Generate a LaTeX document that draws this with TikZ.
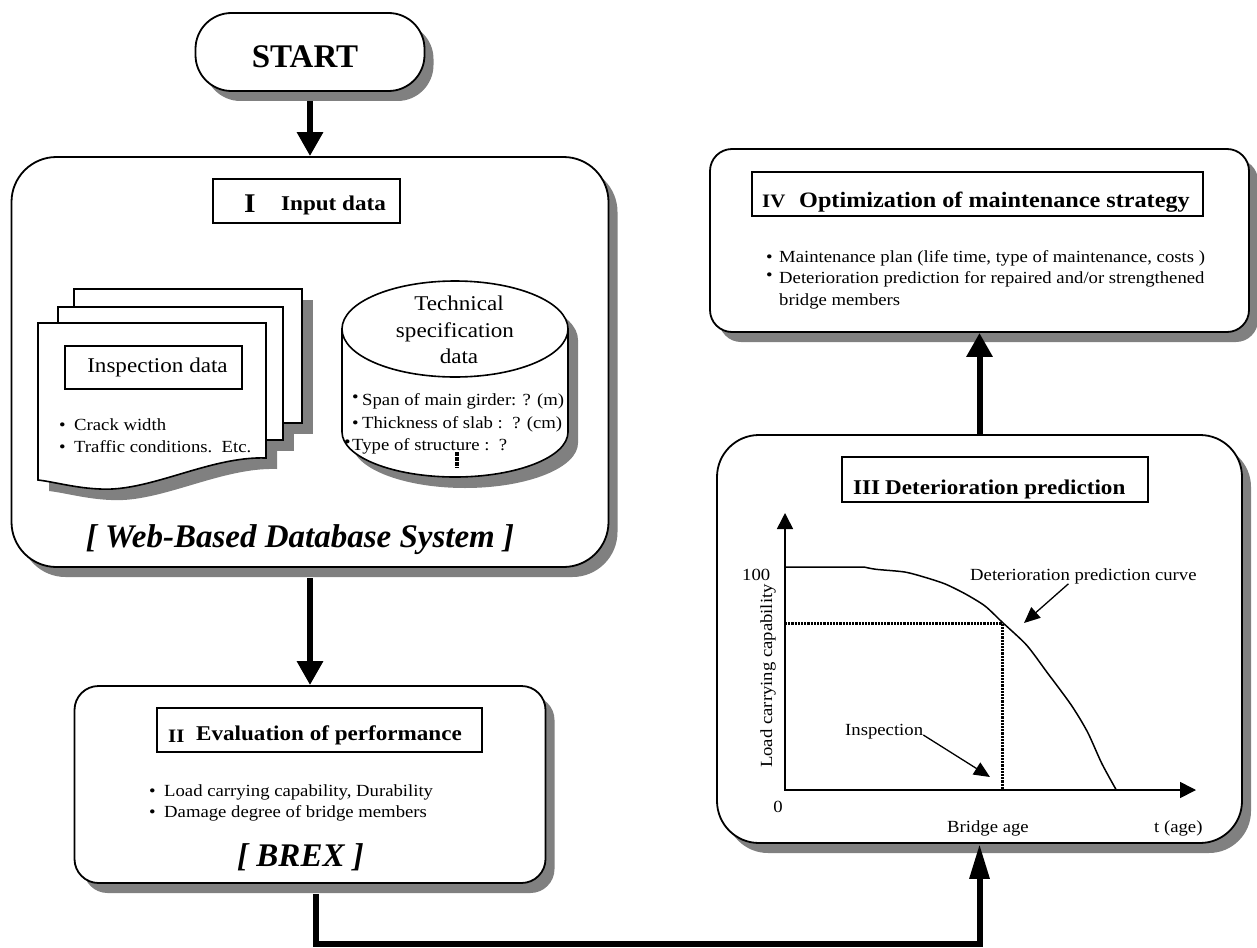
\documentclass[tikz,border=0pt]{standalone}
\usepackage{fontspec}
\setmainfont{Liberation Serif}
\newfontfamily\wf{Liberation Serif}[FakeStretch=1.1]
\usetikzlibrary{arrows.meta,shadows}
\begin{document}
\begin{tikzpicture}[x=1pt,y=-1pt,
  box/.style={draw,line width=1.8pt,fill=white,inner sep=0pt},
  shad/.style={drop shadow={shadow xshift=9pt,shadow yshift=-10pt,fill=gray,opacity=1}},
  page/.style={draw,line width=1.6pt,fill=white},
  tbox/.style={draw,line width=1.4pt,fill=white,inner sep=0pt},
  ttl/.style={font=\wf\bfseries\fontsize{21}{25}\selectfont,inner sep=0pt,anchor=base west},
  num/.style={font=\wf\bfseries\fontsize{19}{22}\selectfont,inner sep=0pt,anchor=base west},
  txt/.style={font=\wf\fontsize{17}{21}\selectfont,inner sep=0pt,anchor=base west},
  mid/.style={font=\wf\fontsize{21}{25}\selectfont,inner sep=0pt,anchor=base},
  big/.style={font=\bfseries\itshape\fontsize{33}{36}\selectfont,inner sep=0pt,anchor=base},
  flow/.style={line width=6pt,-{Triangle[length=24pt,width=25pt]}},
  axis/.style={line width=1.6pt,{Triangle[length=16pt,width=16pt]}-{Triangle[length=16pt,width=16pt]}},
  ptr/.style={line width=1.3pt,-{Triangle[length=16pt,width=14pt]}},
  dots/.style={line width=3pt,dash pattern=on 2.2pt off 1pt},
  crv/.style={line width=1.5pt}]
\useasboundingbox (0,0) rectangle (1257,947);

% ---------- START ----------
\node[box,shad,rounded corners=36pt,minimum width=229pt,minimum height=78pt] (start) at (310,52) {};
\node[font=\bfseries\fontsize{33}{36}\selectfont,inner sep=0pt,anchor=base] (starttxt) at (305,68) {START};

% ---------- I Input data ----------
\node[box,shad,rounded corners=45pt,minimum width=597pt,minimum height=410pt] (input) at (310,362) {};
\node[tbox,minimum width=187pt,minimum height=44pt] (t1) at (306.5,201) {};
\node[ttl,font=\wf\bfseries\fontsize{27}{30}\selectfont] (t1n) at (244,212) {I};
\node[ttl] (t1t) at (281,210) {Input data};

% document stack
\begin{scope}[shift={(11,11)}]
\fill[gray] (74,289) rectangle (302,423);
\fill[gray] (58,307) rectangle (283,440);
\fill[gray] (38,323) -- (266,323) -- (266,458) .. controls (210,456) and (150,492) .. (100,489) .. controls (75,488) and (55,482) .. (38,480) -- cycle;
\end{scope}
\draw[page] (74,289) rectangle (302,423);
\draw[page] (58,307) rectangle (283,440);
\draw[page] (38,323) -- (266,323) -- (266,458) .. controls (210,456) and (150,492) .. (100,489) .. controls (75,488) and (55,482) .. (38,480) -- cycle;
\node[tbox,minimum width=177pt,minimum height=43pt,font=\wf\fontsize{21}{25}\selectfont] (insp) at (153.5,367.5) {\hspace*{8pt}Inspection data};
\node[txt] (ib1) at (59,430) {\makebox[15pt][l]{•}Crack width};
\node[txt] (ib2) at (59,452) {\makebox[15pt][l]{•}Traffic conditions.\ \ Etc.};

% cylinder
\begin{scope}[shift={(10,11)}]
\fill[gray] (342,329) -- (342,432) .. controls (342,457) and (393,477) .. (455,477) .. controls (517,477) and (568,457) .. (568,432) -- (568,329) -- cycle;
\fill[gray] (455,329) ellipse [x radius=113,y radius=48];
\end{scope}
\draw[page] (342,329) -- (342,432) .. controls (342,457) and (393,477) .. (455,477) .. controls (517,477) and (568,457) .. (568,432) -- (568,329) -- cycle;
\draw[page] (455,329) ellipse [x radius=113,y radius=48];
\node[mid] (cy1) at (459,310) {Technical};
\node[mid] (cy2) at (455,337) {specification};
\node[mid] (cy3) at (459,363) {data};
\node[txt] (cb1) at (352,405) {\makebox[10pt][l]{\raisebox{3pt}{•}}Span of main girder: ? (m)};
\node[txt] (cb2) at (352,428) {\makebox[10pt][l]{•}Thickness of slab :\ \ ? (cm)};
\node[txt] (cb3) at (344,450) {\makebox[8pt][l]{\raisebox{3pt}{•}}Type of structure :\ \ ?};
\draw[line width=4pt,dash pattern=on 3.5pt off 1.5pt] (457,452) -- (457,468);

\node[big] (wbds) at (300,547) {[ Web-Based Database System ]};

% ---------- II Evaluation ----------
\node[box,shad,rounded corners=24pt,minimum width=471pt,minimum height=197pt] (eval) at (310,784.5) {};
\node[tbox,minimum width=325pt,minimum height=44pt] (t2) at (319.5,730) {};
\node[num] (t2n) at (168,742) {II};
\node[ttl] (t2t) at (196,740) {Evaluation of performance};
\node[txt] (eb1) at (149,796) {\makebox[15pt][l]{•}Load carrying capability, Durability};
\node[txt] (eb2) at (149,817) {\makebox[15pt][l]{•}Damage degree of bridge members};
\node[big] (brex) at (300.5,866) {[ BREX ]};

% ---------- IV Optimization ----------
\node[box,shad,rounded corners=22pt,minimum width=539pt,minimum height=183pt] (opt) at (979.5,240.5) {};
\node[tbox,minimum width=451pt,minimum height=44pt] (t4) at (977.5,194) {};
\node[num] (t4n) at (762,207) {IV};
\node[ttl,font=\wf\bfseries\fontsize{22}{25}\selectfont] (t4t) at (799,207) {Optimization of maintenance strategy};
\node[txt] (ob1) at (766,262) {\makebox[13pt][l]{•}Maintenance plan (life time, type of maintenance, costs )};
\node[txt] (ob2) at (766,283) {\makebox[13pt][l]{\raisebox{3pt}{•}}Deterioration prediction for repaired and/or strengthened};
\node[txt] (ob3) at (779,305) {bridge members};

% ---------- III Deterioration ----------
\node[box,shad,rounded corners=42pt,minimum width=525pt,minimum height=408pt] (det) at (979.5,639) {};
\node[tbox,minimum width=306pt,minimum height=45pt] (t3) at (995,479.5) {};
\node[ttl] (t3n) at (853,494) {III};
\node[ttl] (t3t) at (885,494) {Deterioration prediction};

% graph
\coordinate (O) at (785,790);
\coordinate (ytip) at (785,513);
\coordinate (xtip) at (1196,790);
\coordinate (P) at (1002,623);
\draw[dots] (O |- P) -- (P) -- (P |- O);
\draw[axis] (ytip) -- (O) -- (xtip);
\draw[crv] (785,567) -- plot[smooth,tension=0.45] coordinates {(864,567) (876,569.3) (904.6,572) (924.9,577.3) (945.2,584) (965.5,594) (985,606) (1002,622) (1026.5,645) (1046.8,672) (1071.2,705) (1087.5,732) (1101.7,763.3) (1115.9,789.3)};
\node[txt] (l100) at (742,580) {100};
\node[txt,anchor=base] (l0) at (778,812) {0};
\node[txt,anchor=center,rotate=90] (lload) at (768,676) {Load carrying capability};
\node[txt] (lcurve) at (970,580) {Deterioration prediction curve};
\node[txt] (linsp) at (845,735) {Inspection};
\node[txt] (lage) at (947,832) {Bridge age};
\node[txt] (lt) at (1154,832) {t (age)};
\coordinate (pc) at (1024,623);
\coordinate (pi) at (990,777);
\draw[ptr] ([xshift=-15pt]lcurve.south) -- (pc);
\draw[ptr] (linsp.base east) -- (pi);

% ---------- connectors ----------
\draw[flow] ([yshift=-9pt]start.south) -- (input.north);
\draw[flow] ([yshift=-10pt]input.south) -- (eval.north);
\draw[flow] (det.north) -- (opt.south);
\coordinate (low) at (316,944);
\draw[line width=6pt,-{Triangle[length=35pt,width=19pt]}] ([xshift=6pt,yshift=-10pt]eval.south) -- (low) -| (det.south);
\end{tikzpicture}
\end{document}
